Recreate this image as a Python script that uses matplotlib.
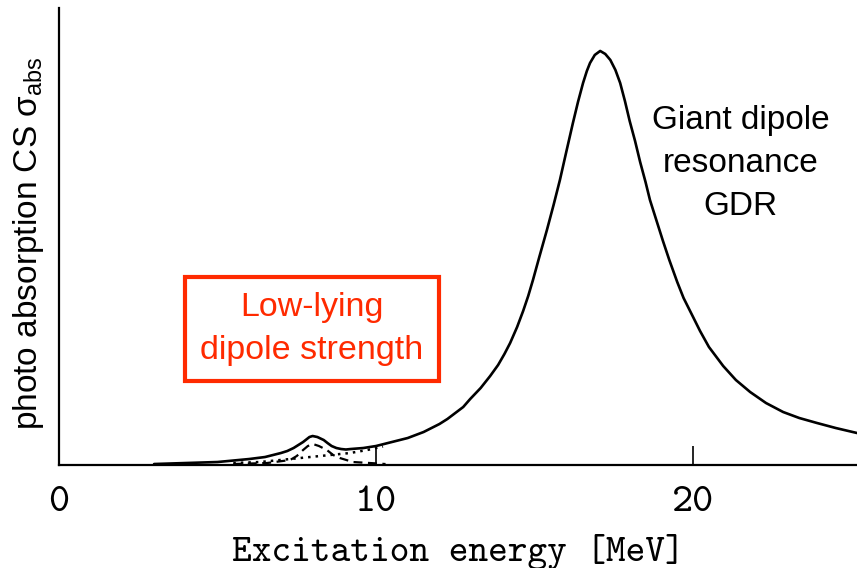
import matplotlib
matplotlib.use("Agg")
import matplotlib.pyplot as plt

plt.rcParams["mathtext.fontset"] = "custom"
plt.rcParams["mathtext.rm"] = "Liberation Sans"
plt.rcParams["mathtext.it"] = "Liberation Sans"

# Total photo-absorption cross section (arb. units) vs excitation energy (MeV)
energy_total = [3.0, 4.0, 5.0, 6.0, 6.5, 7.0, 7.2, 7.4, 7.55, 7.7, 7.9, 8.0, 8.15,
                8.35, 8.47, 8.6, 8.75, 8.9, 9.05, 9.2, 9.4, 9.6, 9.8, 10.0, 10.25,
                10.5, 10.75, 11.0, 11.25, 11.5, 11.75, 12.0, 12.25, 12.5, 12.75,
                12.97, 13.3, 13.6, 13.85, 14.05, 14.23, 14.45, 14.64, 14.8, 14.95,
                15.15, 15.39, 15.6, 15.8, 16.0, 16.21, 16.37, 16.53, 16.65, 16.75,
                16.9, 17.07, 17.23, 17.39, 17.55, 17.7, 17.85, 18.0, 18.17, 18.33,
                18.5, 18.64, 18.85, 19.05, 19.25, 19.5, 19.7, 20.0, 20.22, 20.5,
                20.95, 21.35, 21.8, 22.3, 22.84, 23.35, 23.91, 24.5, 25.17]
sigma_total = [1, 2, 3, 6, 8, 12, 14, 17, 20, 23, 28, 29, 28,
               25, 22, 19, 17, 16, 15.5, 16, 16.5, 17, 18, 19, 21,
               23, 25, 27, 30, 33, 37, 41, 46, 52, 58,
               66, 77, 89, 100, 111, 122, 138, 154, 169, 185,
               208, 235, 260, 285, 313, 342, 363, 382, 394, 402,
               410, 414, 411, 405, 395, 382, 364, 344, 324, 303,
               283, 265, 244, 224, 205, 183, 167, 148, 134, 118,
               99, 85, 73, 62, 53, 47, 42, 37, 32]

# Low-lying (pygmy) component
energy_pygmy = [5.5, 6.56, 7.29, 7.5, 7.7, 7.85, 8.01, 8.2, 8.45, 8.65, 8.86,
                9.27, 9.81, 10.3]
sigma_pygmy = [1, 2, 5, 9, 15, 19, 21, 19, 15, 10, 7, 3, 2, 1]

# GDR tail without the low-lying component
energy_tail = [5.5, 6.34, 7.29, 7.92, 8.55, 9.18, 9.72, 10.22]
sigma_tail = [2, 3, 6, 8, 10, 12, 15, 18.5]

x_ticks = [0, 10, 20]
x_tick_labels = ["0", "10", "20"]

fig = plt.figure(figsize=(8.57, 5.68), dpi=100)
ax = fig.add_axes([0.0688, 0.1813, 0.9312, 0.8047])

ax.plot(energy_total, sigma_total, color="black", lw=1.9,
        solid_joinstyle="round", solid_capstyle="round")
ax.plot(energy_pygmy, sigma_pygmy, color="black", lw=1.6, linestyle=(0, (4, 2.5)))
ax.plot(energy_tail, sigma_tail, color="black", lw=1.8, linestyle=(0, (1.0, 2.0)))

ax.set_xlim(0, 25.17)
ax.set_ylim(0, 457)

for side in ("top", "right"):
    ax.spines[side].set_visible(False)
for side in ("left", "bottom"):
    ax.spines[side].set_linewidth(1.6)

ax.set_yticks([])
ax.set_xticks(x_ticks)
ax.set_xticklabels(x_tick_labels, fontfamily="cmtt10", fontsize=29)
ax.tick_params(axis="x", direction="in", length=14, width=1.2, pad=15)

ax.set_xlabel("Excitation energy [MeV]", fontfamily="cmtt10", fontsize=27, labelpad=10)
ax.set_ylabel("photo absorption CS σ$_{\\mathregular{abs}}$",
              fontfamily="Liberation Sans", fontsize=24)
ax.yaxis.set_label_coords(-0.0163, 0.484)

ax.text(21.5, 301, "Giant dipole\nresonance\nGDR", ha="center", va="center",
        fontfamily="Liberation Sans", fontsize=24, linespacing=1.5, color="black")

red = "#FF2A00"
ax.text(7.98, 136, "Low-lying\ndipole strength", ha="center", va="center",
        fontfamily="Liberation Sans", fontsize=24.5, linespacing=1.5, color=red,
        bbox=dict(boxstyle="square,pad=0.44", fc="none", ec=red, lw=3))

fig.savefig("out.png", dpi=100)
